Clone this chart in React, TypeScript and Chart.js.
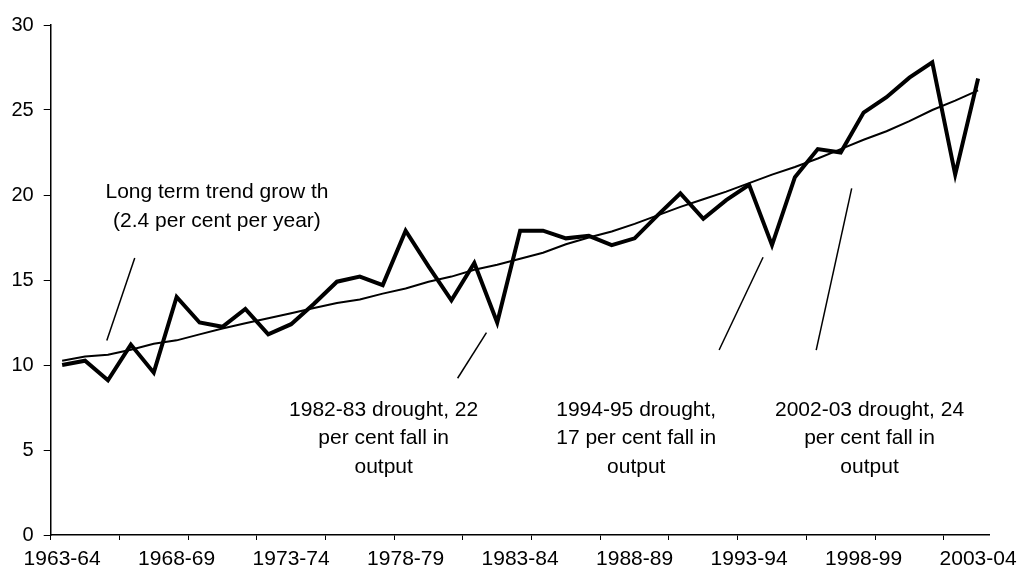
import React, { useEffect, useRef } from "react";
import { Chart, registerables } from "chart.js";

Chart.register(...registerables);

const categories: string[] = [
  "1963-64", "1964-65", "1965-66", "1966-67", "1967-68", "1968-69", "1969-70", "1970-71",
  "1971-72", "1972-73", "1973-74", "1974-75", "1975-76", "1976-77", "1977-78", "1978-79",
  "1979-80", "1980-81", "1981-82", "1982-83", "1983-84", "1984-85", "1985-86", "1986-87",
  "1987-88", "1988-89", "1989-90", "1990-91", "1991-92", "1992-93", "1993-94", "1994-95",
  "1995-96", "1996-97", "1997-98", "1998-99", "1999-00", "2000-01", "2001-02", "2002-03",
  "2003-04",
];

const output: number[] = [
  10.0, 10.25, 9.1, 11.2, 9.55, 14.0, 12.5, 12.25, 13.3, 11.8,
  12.4, 13.6, 14.9, 15.2, 14.7, 17.9, 15.8, 13.8, 16.0, 12.5,
  17.9, 17.9, 17.45, 17.6, 17.05, 17.45, 18.8, 20.1, 18.6, 19.7,
  20.6, 17.05, 21.05, 22.7, 22.5, 24.85, 25.75, 26.9, 27.8, 21.2,
  26.85,
];

const trend: number[] = [
  10.25, 10.5, 10.6, 10.9, 11.25, 11.45, 11.8, 12.15, 12.45, 12.75,
  13.05, 13.35, 13.65, 13.85, 14.2, 14.5, 14.9, 15.2, 15.6, 15.9,
  16.25, 16.6, 17.1, 17.5, 17.85, 18.3, 18.8, 19.3, 19.75, 20.2,
  20.7, 21.2, 21.65, 22.15, 22.7, 23.25, 23.75, 24.35, 25.0, 25.55,
  26.15,
];

const yTicks: number[] = [0, 5, 10, 15, 20, 25, 30];

// annotation texts (lines) with anchor in category-index / value units
const noteTexts: string[][] = [
  ["Long term trend grow th", "(2.4 per cent per year)"],
  ["1982-83 drought, 22", "per cent fall in", "output"],
  ["1994-95 drought,", "17 per cent fall in", "output"],
  ["2002-03 drought, 24", "per cent fall in", "output"],
];
const noteX: number[] = [6.76, 14.04, 25.07, 35.26];
const noteY: number[][] = [
  [20.19, 18.43],
  [7.35, 5.68, 4.0],
  [7.35, 5.68, 4.0],
  [7.35, 5.68, 4.0],
];
// leader lines [x1, y1, x2, y2]
const leaders: number[][] = [
  [3.17, 16.29, 1.95, 11.44],
  [18.53, 11.9, 17.27, 9.22],
  [30.61, 16.34, 28.69, 10.88],
  [34.48, 20.39, 32.93, 10.88],
];

const FONT = "'Liberation Sans', Arial, sans-serif";

const annotationPlugin = {
  id: "annotations",
  afterDatasetsDraw(chart: any) {
    const ctx = chart.ctx;
    const xs = chart.scales.x;
    const ys = chart.scales.y;
    ctx.save();
    ctx.strokeStyle = "#000";
    ctx.lineWidth = 1.5;
    leaders.forEach((l) => {
      ctx.beginPath();
      ctx.moveTo(xs.getPixelForValue(l[0]), ys.getPixelForValue(l[1]));
      ctx.lineTo(xs.getPixelForValue(l[2]), ys.getPixelForValue(l[3]));
      ctx.stroke();
    });
    ctx.fillStyle = "#000";
    ctx.font = `21px ${FONT}`;
    ctx.textAlign = "center";
    ctx.textBaseline = "middle";
    noteTexts.forEach((lines, i) => {
      const px = xs.getPixelForValue(noteX[i]);
      lines.forEach((t, j) => {
        ctx.fillText(t, px, ys.getPixelForValue(noteY[i][j]));
      });
    });
    ctx.restore();
  },
};

export default function App() {
  const ref = useRef<HTMLCanvasElement | null>(null);
  useEffect(() => {
    if (!ref.current) return;
    const chart = new Chart(ref.current, {
      type: "line",
      data: {
        labels: categories,
        datasets: [
          {
            label: "Output",
            data: output,
            borderColor: "#000",
            borderWidth: 4,
            pointRadius: 0,
            tension: 0,
            fill: false,
          },
          {
            label: "Trend",
            data: trend,
            borderColor: "#000",
            borderWidth: 2,
            pointRadius: 0,
            tension: 0,
            fill: false,
          },
        ],
      },
      options: {
        responsive: false,
        animation: false,
        layout: { padding: { top: 25, right: 30.7, left: 0, bottom: 0 } },
        plugins: {
          legend: { display: false },
          tooltip: { enabled: false },
        },
        scales: {
          x: {
            type: "category",
            offset: true,
            grid: {
              offset: true,
              drawOnChartArea: false,
              drawTicks: true,
              tickLength: 5,
              tickColor: (c: any) => (c.index % 3 === 0 ? "#000" : "rgba(0,0,0,0)"),
              color: "rgba(0,0,0,0)",
            },
            border: { display: true, color: "#000", width: 1.5 },
            ticks: {
              autoSkip: false,
              maxRotation: 0,
              minRotation: 0,
              padding: 7,
              color: "#000",
              font: { family: FONT, size: 21 },
              callback: (_v: any, i: number) => (i % 5 === 0 ? categories[i] : ""),
            },
            afterFit: (s: any) => {
              s.height = 39;
            },
          },
          y: {
            min: 0,
            max: 30,
            afterBuildTicks: (s: any) => {
              s.ticks = yTicks.map((v) => ({ value: v }));
            },
            grid: {
              drawOnChartArea: false,
              drawTicks: true,
              tickLength: 7,
              tickColor: "#000",
            },
            border: { display: true, color: "#000", width: 1.5 },
            ticks: {
              padding: 10,
              color: "#000",
              font: { family: FONT, size: 20 },
            },
            afterFit: (s: any) => {
              s.width = 50.7;
            },
          },
        },
      },
      plugins: [annotationPlugin],
    });
    return () => chart.destroy();
  }, []);
  return (
    <div style={{ position: "fixed", left: 0, top: 0, width: 1024, height: 574, background: "#fff" }}>
      <canvas ref={ref} width={1024} height={574} />
    </div>
  );
}
